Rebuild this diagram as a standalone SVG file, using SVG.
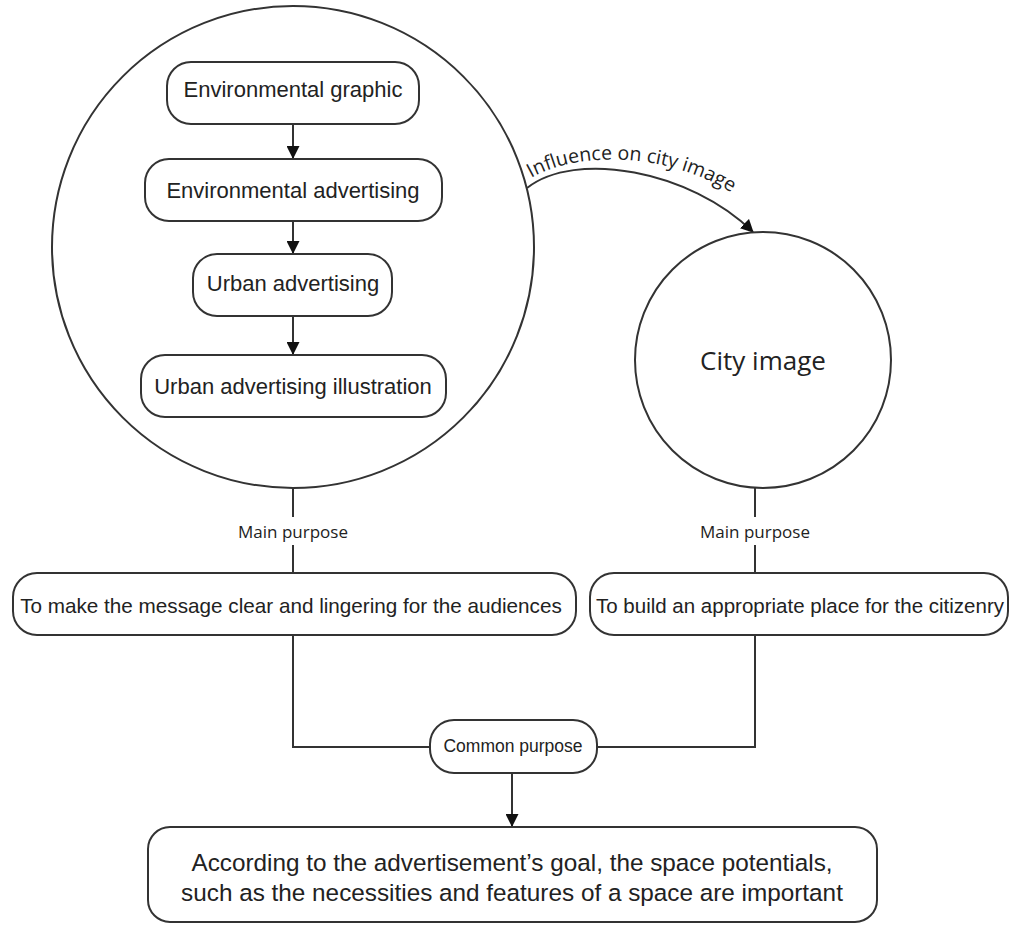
<svg xmlns="http://www.w3.org/2000/svg" width="1010" height="925" viewBox="0 0 1010 925">
<style>
.shape{fill:#fff;stroke:#333;stroke-width:2}
.line{fill:none;stroke:#333;stroke-width:2}
.t{font-family:"Liberation Sans",Arial,sans-serif;fill:#222;text-anchor:middle;dominant-baseline:central}
.o{font-family:"Open Sans","Noto Sans",sans-serif;fill:#222;text-anchor:middle;dominant-baseline:central}
</style>
<defs>
<marker id="ah" markerWidth="13" markerHeight="13" refX="12" refY="6.5" orient="auto" markerUnits="userSpaceOnUse">
<path d="M0,0 L13,6.5 L0,13 Z" fill="#111"/>
</marker>
<path id="lblpath" d="M531,178 C588,146 694,154 760,214"/>
</defs>
<rect width="1010" height="925" fill="#fff"/>
<g id="big-circle">
<circle class="shape" cx="293" cy="247" r="241"/>
</g>
<g id="connectors">
<line class="line" x1="293" y1="124" x2="293" y2="158" marker-end="url(#ah)"/>
<line class="line" x1="293" y1="221" x2="293" y2="253" marker-end="url(#ah)"/>
<line class="line" x1="293" y1="316" x2="293" y2="354" marker-end="url(#ah)"/>
<path class="line" d="M527,188 C575,150 690,170 753,232" marker-end="url(#ah)"/>
<text class="o" font-size="19.5" style="dominant-baseline:auto;text-anchor:start"><textPath href="#lblpath">Influence on city image</textPath></text>
<line class="line" x1="293" y1="488" x2="293" y2="517"/>
<line class="line" x1="293" y1="545" x2="293" y2="573"/>
<text class="o" x="293" y="531" font-size="17">Main purpose</text>
<line class="line" x1="755" y1="488" x2="755" y2="517"/>
<line class="line" x1="755" y1="545" x2="755" y2="573"/>
<text class="o" x="755" y="531" font-size="17">Main purpose</text>
<path class="line" d="M293,635 V747 H430"/>
<path class="line" d="M755,635 V747 H597"/>
<line class="line" x1="512" y1="773" x2="512" y2="826" marker-end="url(#ah)"/>
</g>
<g id="env-graphic">
<rect class="shape" x="167" y="62" width="252" height="62" rx="24"/>
<text class="t" x="293" y="89" font-size="22">Environmental graphic</text>
</g>
<g id="env-advertising">
<rect class="shape" x="145" y="159" width="297" height="62" rx="24"/>
<text class="t" x="293" y="190" font-size="22">Environmental advertising</text>
</g>
<g id="urban-advertising">
<rect class="shape" x="193" y="254" width="199" height="62" rx="24"/>
<text class="t" x="293" y="283" font-size="22">Urban advertising</text>
</g>
<g id="urban-illustration">
<rect class="shape" x="141" y="355" width="305" height="62" rx="24"/>
<text class="t" x="293" y="386" font-size="22">Urban advertising illustration</text>
</g>
<g id="city-image">
<circle class="shape" cx="763" cy="360" r="128"/>
<text class="o" x="763" y="360" font-size="26">City image</text>
</g>
<g id="purpose-left">
<rect class="shape" x="13" y="573" width="563" height="62" rx="24"/>
<text class="t" x="291" y="605" font-size="20.7">To make the message clear and lingering for the audiences</text>
</g>
<g id="purpose-right">
<rect class="shape" x="590" y="573" width="418" height="62" rx="24"/>
<text class="t" x="800" y="605" font-size="20.5">To build an appropriate place for the citizenry</text>
</g>
<g id="common-purpose">
<rect class="shape" x="430" y="720" width="167" height="53" rx="24"/>
<text class="t" x="513" y="746" font-size="17.5">Common purpose</text>
</g>
<g id="conclusion">
<rect class="shape" x="148" y="827" width="729" height="95" rx="22"/>
<text class="t" x="512" y="862" font-size="24.3">According to the advertisement’s goal, the space potentials,</text>
<text class="t" x="512" y="892" font-size="24.3">such as the necessities and features of a space are important</text>
</g>
</svg>
